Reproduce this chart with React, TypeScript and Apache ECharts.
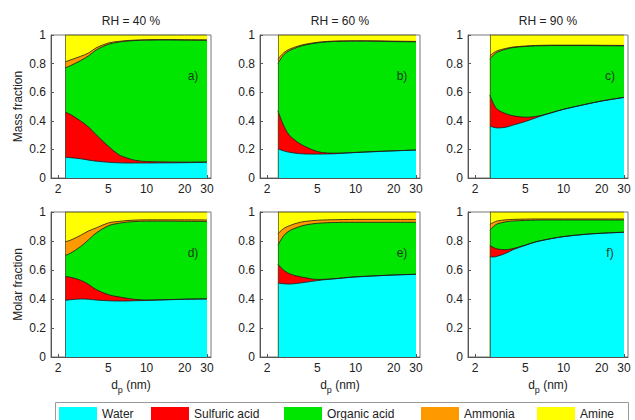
import React, { useEffect, useRef } from "react";
import * as echarts from "echarts";

// ---------- data ----------
const SPECIES = ["Water", "Sulfuric acid", "Organic acid", "Ammonia", "Amine"];
const COLORS = ["#00ffff", "#ff0000", "#00e600", "#ff9900", "#ffff00"];
const RH_TITLES = ["RH = 40 %", "RH = 60 %", "RH = 90 %"];
const PANEL_LABELS = ["a)", "b)", "c)", "d)", "e)", "f)"];
const ROW_NAMES = ["Mass fraction", "Molar fraction"];
const X_TICKS = [2, 5, 10, 20, 30];
const Y_TICKS = [0, 0.2, 0.4, 0.6, 0.8, 1];
const X_MIN = 1.762;
const X_MAX = 32.25;

// particle diameters (nm) for each RH
const DP_RH40 = [2.28, 2.5, 3, 3.5, 4, 5, 6, 7, 8, 10, 15, 20, 30];
const DP_RH60 = [2.44, 2.7, 3, 3.5, 4, 5, 6, 7, 8, 10, 15, 20, 30];
const DP_RH90 = [2.62, 2.8, 3, 3.5, 4, 5, 6, 7, 8, 10, 15, 20, 30];

// mass fractions, RH 40 %
const MASS40_WATER = [0.145, 0.142, 0.135, 0.125, 0.118, 0.11, 0.106, 0.105, 0.105, 0.105, 0.106, 0.107, 0.11];
const MASS40_SULF = [0.315, 0.303, 0.265, 0.23, 0.185, 0.112, 0.059, 0.035, 0.02, 0.01, 0.006, 0.004, 0.002];
const MASS40_ORG = [0.31, 0.34, 0.42, 0.5, 0.592, 0.713, 0.785, 0.817, 0.836, 0.849, 0.853, 0.853, 0.851];
const MASS40_NH3 = [0.042, 0.04, 0.03, 0.02, 0.015, 0.009, 0.005, 0.004, 0.003, 0.003, 0.003, 0.003, 0.003];
const MASS40_AMINE = [0.188, 0.175, 0.15, 0.125, 0.09, 0.056, 0.045, 0.039, 0.036, 0.033, 0.032, 0.033, 0.034];

// mass fractions, RH 60 %
const MASS60_WATER = [0.205, 0.19, 0.18, 0.172, 0.168, 0.167, 0.168, 0.17, 0.173, 0.178, 0.185, 0.19, 0.195];
const MASS60_SULF = [0.265, 0.18, 0.12, 0.078, 0.052, 0.018, 0.007, 0.004, 0.002, 0.001, 0.001, 0.0, 0.001];
const MASS60_ORG = [0.33, 0.49, 0.59, 0.665, 0.71, 0.76, 0.777, 0.781, 0.781, 0.778, 0.77, 0.764, 0.756];
const MASS60_NH3 = [0.03, 0.015, 0.01, 0.007, 0.005, 0.004, 0.003, 0.003, 0.003, 0.003, 0.003, 0.003, 0.003];
const MASS60_AMINE = [0.17, 0.125, 0.1, 0.078, 0.065, 0.051, 0.045, 0.042, 0.041, 0.04, 0.041, 0.043, 0.045];

// mass fractions, RH 90 %
const MASS90_WATER = [0.364, 0.355, 0.35, 0.355, 0.37, 0.395, 0.42, 0.44, 0.455, 0.48, 0.515, 0.538, 0.563];
const MASS90_SULF = [0.216, 0.165, 0.13, 0.095, 0.065, 0.03, 0.01, 0.003, 0.002, 0.001, 0.001, 0.001, 0.001];
const MASS90_ORG = [0.25, 0.34, 0.4, 0.45, 0.477, 0.495, 0.494, 0.482, 0.469, 0.445, 0.41, 0.386, 0.36];
const MASS90_NH3 = [0.025, 0.015, 0.01, 0.006, 0.004, 0.003, 0.003, 0.003, 0.003, 0.003, 0.003, 0.003, 0.003];
const MASS90_AMINE = [0.145, 0.125, 0.11, 0.094, 0.084, 0.077, 0.073, 0.072, 0.071, 0.071, 0.071, 0.072, 0.073];

// molar fractions, RH 40 %
const MOLAR40_WATER = [0.39, 0.395, 0.4, 0.398, 0.393, 0.388, 0.386, 0.386, 0.388, 0.39, 0.395, 0.398, 0.4];
const MOLAR40_SULF = [0.165, 0.155, 0.13, 0.102, 0.072, 0.042, 0.029, 0.019, 0.01, 0.003, 0.001, 0.001, 0.001];
const MOLAR40_ORG = [0.145, 0.165, 0.23, 0.31, 0.39, 0.475, 0.507, 0.525, 0.536, 0.544, 0.541, 0.537, 0.534];
const MOLAR40_NH3 = [0.095, 0.09, 0.078, 0.06, 0.035, 0.02, 0.013, 0.011, 0.01, 0.009, 0.009, 0.01, 0.01];
const MOLAR40_AMINE = [0.205, 0.195, 0.162, 0.13, 0.11, 0.075, 0.065, 0.059, 0.056, 0.054, 0.054, 0.054, 0.055];

// molar fractions, RH 60 %
const MOLAR60_WATER = [0.51, 0.505, 0.503, 0.508, 0.515, 0.527, 0.535, 0.54, 0.545, 0.552, 0.56, 0.565, 0.57];
const MOLAR60_SULF = [0.13, 0.095, 0.072, 0.049, 0.032, 0.008, 0.002, 0.001, 0.001, 0.001, 0.001, 0.001, 0.001];
const MOLAR60_ORG = [0.13, 0.235, 0.295, 0.338, 0.363, 0.387, 0.389, 0.387, 0.383, 0.376, 0.368, 0.363, 0.358];
const MOLAR60_NH3 = [0.08, 0.05, 0.035, 0.03, 0.025, 0.021, 0.02, 0.019, 0.019, 0.02, 0.02, 0.02, 0.02];
const MOLAR60_AMINE = [0.15, 0.115, 0.095, 0.075, 0.065, 0.057, 0.054, 0.053, 0.052, 0.051, 0.051, 0.051, 0.051];

// molar fractions, RH 90 %
const MOLAR90_WATER = [0.69, 0.69, 0.695, 0.715, 0.74, 0.77, 0.793, 0.806, 0.816, 0.83, 0.846, 0.853, 0.86];
const MOLAR90_SULF = [0.08, 0.065, 0.05, 0.025, 0.008, 0.002, 0.001, 0.001, 0.001, 0.001, 0.001, 0.001, 0.001];
const MOLAR90_ORG = [0.105, 0.145, 0.173, 0.192, 0.19, 0.17, 0.15, 0.138, 0.128, 0.114, 0.098, 0.091, 0.084];
const MOLAR90_NH3 = [0.04, 0.028, 0.02, 0.014, 0.011, 0.009, 0.008, 0.007, 0.007, 0.007, 0.007, 0.007, 0.007];
const MOLAR90_AMINE = [0.085, 0.072, 0.062, 0.054, 0.051, 0.049, 0.048, 0.048, 0.048, 0.048, 0.048, 0.048, 0.048];

// ---------- layout ----------
const GRID_LEFTS = [51, 260, 468];
const GRID_TOPS = [35, 212];
const GRID_HEIGHTS = [143, 145];
const GRID_W = 160;
const LEGEND_LEFTS = [59, 151, 284, 421, 537];
const FONT = "'Liberation Sans', Arial, Helvetica, sans-serif";
const TXT = "#222";
const AX = "#555";

const PANELS = [
  { dp: DP_RH40, layers: [MASS40_WATER, MASS40_SULF, MASS40_ORG, MASS40_NH3, MASS40_AMINE] },
  { dp: DP_RH60, layers: [MASS60_WATER, MASS60_SULF, MASS60_ORG, MASS60_NH3, MASS60_AMINE] },
  { dp: DP_RH90, layers: [MASS90_WATER, MASS90_SULF, MASS90_ORG, MASS90_NH3, MASS90_AMINE] },
  { dp: DP_RH40, layers: [MOLAR40_WATER, MOLAR40_SULF, MOLAR40_ORG, MOLAR40_NH3, MOLAR40_AMINE] },
  { dp: DP_RH60, layers: [MOLAR60_WATER, MOLAR60_SULF, MOLAR60_ORG, MOLAR60_NH3, MOLAR60_AMINE] },
  { dp: DP_RH90, layers: [MOLAR90_WATER, MOLAR90_SULF, MOLAR90_ORG, MOLAR90_NH3, MOLAR90_AMINE] },
];

function buildOption() {
  const grid: any[] = [];
  const xAxis: any[] = [];
  const yAxis: any[] = [];
  const series: any[] = [];
  const graphic: any[] = [];
  const xTickVals = X_TICKS.map((t) => Math.log10(t));

  PANELS.forEach((panel, p) => {
    const row = Math.floor(p / 3);
    const col = p % 3;
    const left = GRID_LEFTS[col];
    const top = GRID_TOPS[row];
    const height = GRID_HEIGHTS[row];
    grid.push({
      left, top, width: GRID_W, height,
      show: true, borderColor: "#777", borderWidth: 1, backgroundColor: "transparent",
      containLabel: false,
    });
    xAxis.push({
      type: "value",
      gridIndex: p,
      min: Math.log10(X_MIN),
      max: Math.log10(X_MAX),
      splitLine: { show: false },
      axisLine: { show: true, lineStyle: { color: AX, width: 1 } },
      axisTick: { show: true, inside: true, length: 3, customValues: xTickVals, lineStyle: { color: AX } },
      axisLabel: {
        customValues: xTickVals,
        formatter: (v: number) => String(Math.round(Math.pow(10, v))),
        color: TXT, fontSize: 12, fontFamily: FONT, margin: 5,
      },
      name: row === 1 ? "d{sub|p} (nm)" : "",
      nameLocation: "middle",
      nameGap: 19,
      nameTextStyle: {
        color: TXT, fontSize: 12, fontFamily: FONT,
        rich: { sub: { fontSize: 9, fontFamily: FONT, color: TXT, padding: [9, 0, 0, 0] } },
      },
    });
    yAxis.push({
      type: "value",
      gridIndex: p,
      min: Y_TICKS[0],
      max: Y_TICKS[Y_TICKS.length - 1],
      interval: 0.2,
      splitLine: { show: false },
      axisLine: { show: true, lineStyle: { color: AX, width: 1 } },
      axisTick: { show: true, inside: true, length: 3, lineStyle: { color: AX } },
      axisLabel: {
        formatter: (v: number) => String(parseFloat(v.toFixed(1))),
        color: TXT, fontSize: 12, fontFamily: FONT, margin: 5,
      },
      name: col === 0 ? ROW_NAMES[row] : "",
      nameLocation: "middle",
      nameGap: 27,
      nameTextStyle: { color: TXT, fontSize: 12, fontFamily: FONT },
    });

    // cumulative boundaries
    const cums: number[][] = [];
    let run = panel.dp.map(() => 0);
    panel.layers.forEach((arr) => {
      run = run.map((r, j) => r + arr[j]);
      cums.push(run.slice());
    });
    for (let k = SPECIES.length - 1; k >= 0; k--) {
      const s: any = {
        type: "line",
        name: SPECIES[k],
        xAxisIndex: p,
        yAxisIndex: p,
        data: panel.dp.map((d, j) => [Math.log10(d), Math.min(1, cums[k][j])]),
        smooth: 0.35,
        symbol: "none",
        showSymbol: false,
        lineStyle: { color: "#1a1a1a", width: 0.8 },
        itemStyle: { color: COLORS[k] },
        areaStyle: { color: COLORS[k], opacity: 1, origin: "start" },
        silent: true,
      };
      if (k === 0) {
        s.markLine = {
          silent: true,
          symbol: ["none", "none"],
          label: { show: false },
          lineStyle: { color: "#444", width: 0.7, type: "solid" },
          data: [{ xAxis: Math.log10(panel.dp[0]) }],
        };
      }
      series.push(s);
    }

    // panel letter
    graphic.push({
      type: "text",
      x: left + 142,
      y: top + 41,
      z: 100,
      silent: true,
      style: {
        text: PANEL_LABELS[p], fill: "#1e3a1e", fontSize: 12, fontFamily: FONT,
        align: "center", verticalAlign: "middle",
      },
    });
  });

  // RH titles
  RH_TITLES.forEach((t, c) => {
    graphic.push({
      type: "text",
      x: GRID_LEFTS[c] + GRID_W / 2,
      y: 21,
      z: 100,
      silent: true,
      style: { text: t, fill: TXT, fontSize: 12, fontFamily: FONT, align: "center", verticalAlign: "middle" },
    });
  });

  // legend frame
  graphic.push({
    type: "rect",
    silent: true,
    shape: { x: 55.5, y: 402.5, width: 573, height: 30 },
    style: { fill: "none", stroke: "#999", lineWidth: 1 },
    z: -1,
  });

  const legend = SPECIES.map((name, i) => ({
    data: [name],
    left: LEGEND_LEFTS[i],
    top: 407,
    padding: 0,
    icon: "rect",
    itemWidth: 38,
    itemHeight: 14,
    itemStyle: { borderWidth: 0 },
    lineStyle: { width: 0 },
    textStyle: { color: TXT, fontSize: 12, fontFamily: FONT },
    selectedMode: false,
  }));

  return {
    animation: false,
    backgroundColor: "#fff",
    textStyle: { fontFamily: FONT },
    grid,
    xAxis,
    yAxis,
    series,
    legend,
    graphic,
  };
}

export default function App() {
  const ref = useRef<HTMLDivElement>(null);
  useEffect(() => {
    if (!ref.current) return;
    const chart = echarts.init(ref.current, undefined, { renderer: "svg" });
    chart.setOption(buildOption() as any);
    return () => chart.dispose();
  }, []);
  return (
    <div
      ref={ref}
      style={{ position: "absolute", left: 0, top: 0, width: 635, height: 420, background: "#fff" }}
    />
  );
}
